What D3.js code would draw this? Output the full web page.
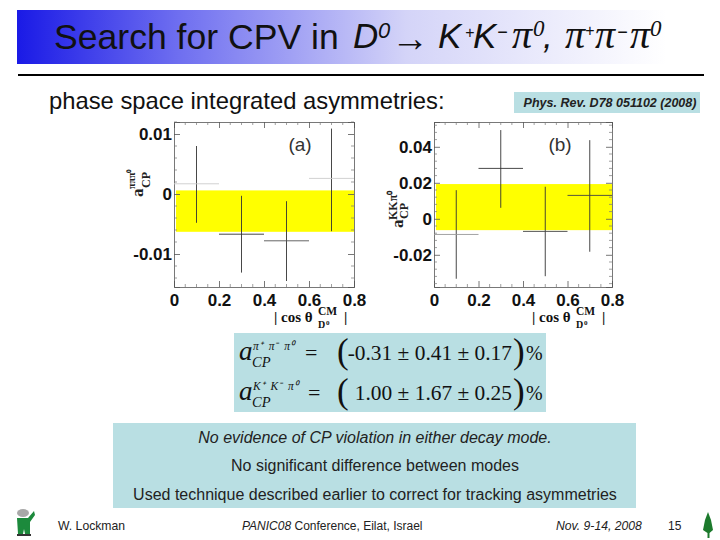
<!DOCTYPE html>
<html><head><meta charset="utf-8">
<script src="https://cdn.jsdelivr.net/npm/d3@7"></script>
<style>html,body{margin:0;padding:0;background:#fff}svg{display:block}</style>
</head><body><svg id="c" width="720" height="540"></svg>
<script>
const binCenters=[0.1,0.3,0.5,0.7];
const binHalfWidth=0.1;
const xTicks=[0,0.2,0.4,0.6,0.8];
const xMinor=[0.05,0.1,0.15,0.25,0.3,0.35,0.45,0.5,0.55,0.65,0.7,0.75];
const aValues=[0.0017,-0.0067,-0.0078,0.0026];
const aTop=[0.0080,-0.0003,-0.0012,0.0109];
const aBottom=[-0.0048,-0.0131,-0.0145,-0.0062];
const aBand=[0.0006,-0.0063];
const aTicks=[-0.01,0,0.01];
const aMinor=[-0.014,-0.012,-0.008,-0.006,-0.004,-0.002,0.002,0.004,0.006,0.008,0.012];
const bValues=[-0.0087,0.028,-0.007,0.013];
const bTop=[0.0159,0.0493,0.0178,0.0437];
const bBottom=[-0.0333,0.0061,-0.0319,-0.0183];
const bBand=[0.0193,-0.0063];
const bTicks=[-0.02,0,0.02,0.04];
const bMinor=[-0.036,-0.032,-0.028,-0.024,-0.016,-0.012,-0.008,-0.004,0.004,0.008,0.012,0.016,0.024,0.028,0.032,0.036,0.044,0.048,0.052];
const summaryLines=["No evidence of CP violation in either decay mode.","No significant difference between modes","Used technique described earlier to correct for tracking asymmetries"];

const svg=d3.select("#c");
const SANS="'Liberation Sans',Arial,sans-serif", SERIF="'Liberation Serif','Times New Roman',serif";
const defs=svg.append("defs");
const g=defs.append("linearGradient").attr("id","tg");
g.append("stop").attr("offset","0").attr("stop-color","#1a1ae6");
g.append("stop").attr("offset","0.25").attr("stop-color","#6f6ff0");
g.append("stop").attr("offset","0.6").attr("stop-color","#d4d4f8");
g.append("stop").attr("offset","1").attr("stop-color","#ffffff");
svg.append("rect").attr("x",17).attr("y",10).attr("width",650).attr("height",54).attr("fill","url(#tg)");
svg.append("rect").attr("x",18).attr("y",74).attr("width",686).attr("height",2).attr("fill","#000");

const tt=svg.append("text").attr("font-family",SANS).attr("fill","#111");
[{x:54,y:49,s:35.6,t:"Search for CPV in"},
 {x:353,y:48,s:35,t:"D",i:1},{x:378,y:38,s:22,t:"0",i:1},
 {x:391,y:51,s:38,t:"→",f:SERIF},
 {x:438,y:48,s:35,t:"K",i:1},{x:465,y:38,s:16,t:"+",i:1},
 {x:473,y:48,s:35,t:"K",i:1},{x:497,y:38,s:18,t:"−",i:1},
 {x:512,y:48,s:40,t:"π",i:1,f:SERIF},{x:533,y:36,s:23,t:"0",i:1,f:SERIF},
 {x:543,y:48,s:35,t:",",i:1},
 {x:565,y:48,s:40,t:"π",i:1,f:SERIF},{x:585,y:36,s:16,t:"+",i:1},
 {x:595,y:48,s:40,t:"π",i:1,f:SERIF},{x:617,y:38,s:18,t:"−",i:1},
 {x:630,y:48,s:40,t:"π",i:1,f:SERIF},{x:650,y:36,s:23,t:"0",i:1,f:SERIF}
].forEach(r=>{
  const s=tt.append("tspan").attr("x",r.x).attr("y",r.y).attr("font-size",r.s).text(r.t);
  if(r.i)s.attr("font-style","italic");
  if(r.f)s.attr("font-family",r.f);
});
svg.append("text").attr("x",49).attr("y",109).attr("font-size",23.8).attr("font-family",SANS).attr("fill","#111").text("phase space integrated asymmetries:");

svg.append("rect").attr("x",514).attr("y",92).attr("width",186).attr("height",21).attr("fill","#b9dfe3");
svg.append("text").attr("x",610).attr("y",107).attr("text-anchor","middle").attr("font-size",12.5).attr("font-weight","bold").attr("font-style","italic").attr("font-family",SANS).attr("fill","#222").text("Phys. Rev. D78 051102 (2008)");

function panel(o){
  const p=svg.append("g");
  const x=d3.scaleLinear().domain([0,0.8]).range(o.xr);
  const y=d3.scaleLinear().domain(o.yd).range(o.yr);
  const [x0,x1]=o.xr,[yb,yt]=o.yr;
  p.append("rect").attr("x",x0+2).attr("width",x1-x0-2).attr("y",y(o.band[0])).attr("height",y(o.band[1])-y(o.band[0])).attr("fill","#ffff00");
  const st=a=>a.call(s=>s.selectAll("path,line").attr("stroke","#555").attr("stroke-width",0.8))
    .call(s=>s.selectAll("text").attr("font-family",SANS).attr("font-weight","bold").attr("font-size",17).attr("fill","#111"));
  const fmt=d=>d===0?"0":String(d);
  p.append("g").attr("transform",`translate(0,${yb})`).call(d3.axisBottom(x).tickValues(xTicks).tickSize(-6).tickPadding(7).tickFormat(fmt)).call(st);
  p.append("g").attr("transform",`translate(0,${yt})`).call(d3.axisTop(x).tickValues(xTicks).tickSize(-6).tickFormat("")).call(st);
  p.append("g").attr("transform",`translate(${x0},0)`).call(d3.axisLeft(y).tickValues(o.ticks).tickSize(-6).tickPadding(2).tickFormat(fmt)).call(st);
  p.append("g").attr("transform",`translate(${x1},0)`).call(d3.axisRight(y).tickValues(o.ticks).tickSize(-6).tickFormat("")).call(st);
  const mins=p.append("g").attr("stroke","#777").attr("stroke-width",0.7);
  xMinor.forEach(v=>{mins.append("line").attr("x1",x(v)).attr("x2",x(v)).attr("y1",yb).attr("y2",yb-3);mins.append("line").attr("x1",x(v)).attr("x2",x(v)).attr("y1",yt).attr("y2",yt+3);});
  o.minor.forEach(v=>{mins.append("line").attr("y1",y(v)).attr("y2",y(v)).attr("x1",x0).attr("x2",x0+3);mins.append("line").attr("y1",y(v)).attr("y2",y(v)).attr("x1",x1).attr("x2",x1-3);});
  binCenters.forEach((c,i)=>{
    p.append("line").attr("x1",x(c)).attr("x2",x(c)).attr("y1",y(o.hi[i])).attr("y2",y(o.lo[i])).attr("stroke","#333").attr("stroke-width",0.9);
    p.append("line").attr("x1",x(c-binHalfWidth)).attr("x2",x(c+binHalfWidth)).attr("y1",y(o.v[i])).attr("y2",y(o.v[i])).attr("stroke",o.hcol[i]).attr("stroke-width",0.9);
  });
  p.append("text").attr("x",o.lx).attr("y",o.ly).attr("text-anchor","middle").attr("font-size",19).attr("font-family",SANS).attr("fill","#333").text(o.label);
  // x title
  const tf=p.append("g").attr("font-family",SERIF).attr("font-weight","bold").attr("fill","#111");
  tf.append("text").attr("x",o.tx).attr("y",o.ty).attr("font-size",15).text("| cos θ");
  tf.append("text").attr("x",o.tx+44).attr("y",o.ty-7).attr("font-size",11.5).text("CM");
  tf.append("text").attr("x",o.tx+44).attr("y",o.ty+6).attr("font-size",10).text("D");
  tf.append("text").attr("x",o.tx+52).attr("y",o.ty+3).attr("font-size",7).text("0");
  tf.append("text").attr("x",o.tx+70).attr("y",o.ty).attr("font-size",15).text("|");
  // y title
  const yt2=p.append("g").attr("transform",`translate(${o.ytx},${o.yty}) rotate(-90)`).attr("font-family",SERIF).attr("font-weight","bold").attr("fill","#222");
  yt2.append("text").attr("font-size",17).text("a");
  yt2.append("text").attr("x",8).attr("y",o.supY).attr("font-size",o.supSize).text(o.sup);
  yt2.append("text").attr("x",9).attr("y",o.cpY).attr("font-size",12).text("CP");
}
panel({xr:[174,354],yr:[287,122],yd:[-0.01550,0.01200],band:aBand,ticks:aTicks,minor:aMinor,v:aValues,hi:aTop,lo:aBottom,hcol:["#ccc","#333","#555","#ccc"],label:"(a)",lx:300,ly:151,tx:274,ty:322,ytx:143,yty:197,sup:"πππ⁰",supSize:10,supY:-8,cpY:7});
panel({xr:[434,612],yr:[287,122],yd:[-0.03789,0.05378],band:bBand,ticks:bTicks,minor:bMinor,v:bValues,hi:bTop,lo:bBottom,hcol:["#999","#333","#444","#444"],label:"(b)",lx:560,ly:151,tx:532,ty:322,ytx:403,yty:228,sup:"KKπ⁰",supSize:12,supY:-6,cpY:5});

// formula box
svg.append("rect").attr("x",234).attr("y",333).attr("width",312).attr("height",79).attr("fill","#b9dfe3");
function formula(y,sup,body,eqx){
  const f=svg.append("g").attr("font-family",SERIF).attr("fill","#111");
  f.append("text").attr("x",239).attr("y",y).attr("font-size",27).attr("font-style","italic").text("a");
  f.append("text").attr("x",252).attr("y",y+7).attr("font-size",14.5).attr("font-style","italic").text("CP");
  f.append("text").attr("x",253).attr("y",y-10).attr("font-size",11.5).attr("font-style","italic").attr("word-spacing",3).text(sup);
  f.append("text").attr("x",eqx).attr("y",y).attr("font-size",22).text("=");
  f.append("text").attr("x",337).attr("y",y+3).attr("font-size",35).text("(");
  f.append("text").attr("x",512).attr("y",y).attr("text-anchor","end").attr("font-size",21.4).text(body);
  f.append("text").attr("x",513).attr("y",y+3).attr("font-size",35).text(")");
  f.append("text").attr("x",526).attr("y",y).attr("font-size",20).text("%");
}
formula(360,"π⁺ π⁻ π⁰","-0.31 ± 0.41 ± 0.17",305);
formula(400,"K⁺ K⁻ π⁰","1.00 ± 1.67 ± 0.25",308);

// summary box
svg.append("rect").attr("x",113).attr("y",423).attr("width",523).attr("height",85).attr("fill","#b9dfe3");
const summaryBase=[443,471,500];
summaryLines.forEach((s,i)=>{
  svg.append("text").attr("x",375).attr("y",summaryBase[i]).attr("text-anchor","middle").attr("font-size",16).attr("font-family",SANS).attr("fill","#222").attr("font-style",i==0?"italic":"normal").text(s);
});

// footer
const foot=svg.append("g").attr("font-family",SANS).attr("font-size",12.2).attr("fill","#222");
foot.append("text").attr("x",58).attr("y",530).text("W. Lockman");
const pc=foot.append("text").attr("x",242).attr("y",530).attr("font-size",12);
pc.append("tspan").attr("font-style","italic").text("PANIC08");pc.append("tspan").text(" Conference, Eilat, Israel");
foot.append("text").attr("x",556).attr("y",530).attr("font-style","italic").text("Nov. 9-14, 2008");
foot.append("text").attr("x",668).attr("y",530).attr("font-size",12).text("15");
// small icons
const ic=svg.append("g");
ic.append("ellipse").attr("cx",23).attr("cy",513).attr("rx",6).attr("ry",4).attr("fill","#a8a8a8");
ic.append("path").attr("d",d3.line()([[17,518],[28,518],[34,511],[35,515],[30,522],[30,534],[25,534],[24,529],[23,534],[18,534]])).attr("fill","#1c8a3c");
ic.append("rect").attr("x",17).attr("y",534).attr("width",14).attr("height",2).attr("fill","#333");
ic.append("path").attr("d",d3.line()([[708,512],[711,520],[713,530],[709.5,533],[709.5,538],[707.5,538],[707.5,533],[703,530],[705,520]])).attr("fill","#1c7a2c");
</script></body></html>
